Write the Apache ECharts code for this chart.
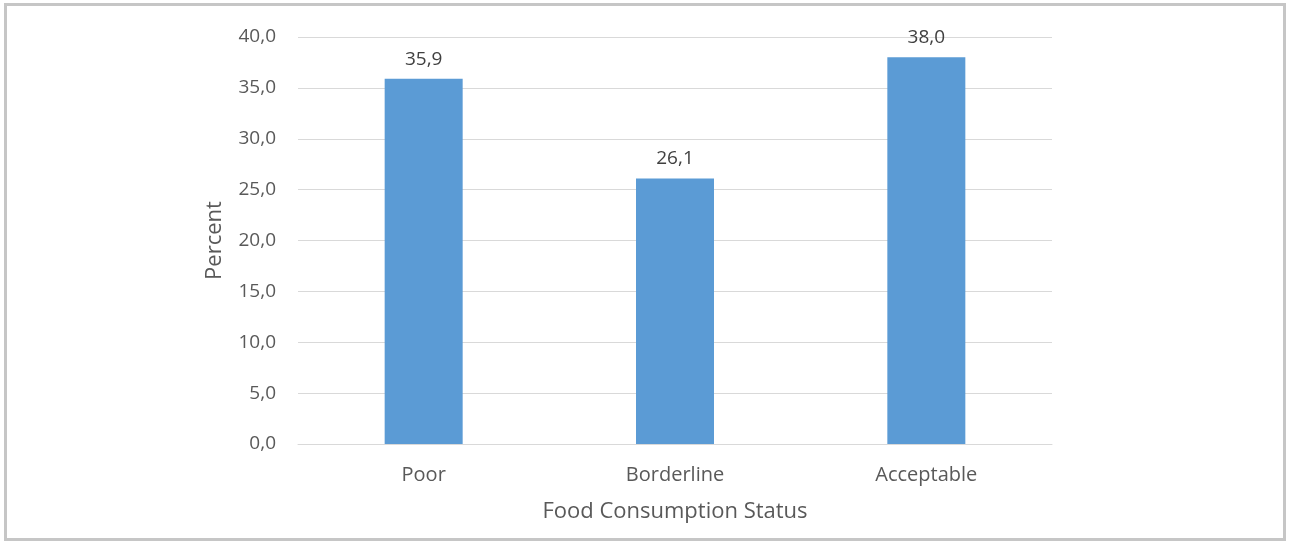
<!DOCTYPE html>
<html>
<head>
<meta charset="utf-8">
<script src="https://cdn.jsdelivr.net/npm/echarts@6/dist/echarts.min.js"></script>
<style>
  html, body { margin: 0; padding: 0; background: #ffffff; }
  #frame {
    position: absolute; left: 4px; top: 3px; width: 1276px; height: 532px;
    border: 3px solid #c6c6c6; background: #fff;
  }
  #chart { position: absolute; left: 0; top: 0; width: 1290px; height: 544px; }
</style>
</head>
<body>
<div id="frame"></div>
<div id="chart"></div>
<script>
// Food consumption status, share of households (percent)
const categories = ['Poor', 'Borderline', 'Acceptable'];
const percentValues = [35.9, 26.1, 38.0];
const yTicks = { min: 0, max: 40, interval: 5 };

const fontFamily = '"Open Sans", "Noto Sans", sans-serif';
const textColor = '#595959';
const fmt = v => Number(v).toFixed(1).replace('.', ',');

const chart = echarts.init(document.getElementById('chart'), null, { renderer: 'canvas' });
chart.setOption({
  backgroundColor: 'transparent',
  animation: false,
  grid: { left: 298, right: 238, top: 37, bottom: 100, containLabel: false },
  xAxis: {
    type: 'category',
    data: categories,
    name: 'Food Consumption Status',
    nameLocation: 'middle',
    nameGap: 57,
    nameTextStyle: { fontFamily, fontSize: 22, color: textColor },
    axisLine: { lineStyle: { color: '#d9d9d9', width: 1 } },
    axisTick: { show: false },
    axisLabel: { fontFamily, fontSize: 20, color: textColor, margin: 21 }
  },
  yAxis: {
    type: 'value',
    min: yTicks.min, max: yTicks.max, interval: yTicks.interval,
    name: 'Percent',
    nameLocation: 'middle',
    nameGap: 72,
    nameRotate: 90,
    nameTextStyle: { fontFamily, fontSize: 22, color: textColor },
    axisLine: { show: false },
    axisTick: { show: false },
    splitLine: { lineStyle: { color: '#d9d9d9', width: 1 } },
    axisLabel: { fontFamily, fontSize: 19, color: textColor, margin: 22, formatter: fmt }
  },
  series: [{
    type: 'bar',
    data: percentValues,
    barWidth: 78,
    itemStyle: { color: '#5b9bd5' },
    label: {
      show: true, position: 'top', distance: 10,
      fontFamily, fontSize: 19, color: '#404040',
      formatter: p => fmt(p.value)
    }
  }]
});
</script>
</body>
</html>
